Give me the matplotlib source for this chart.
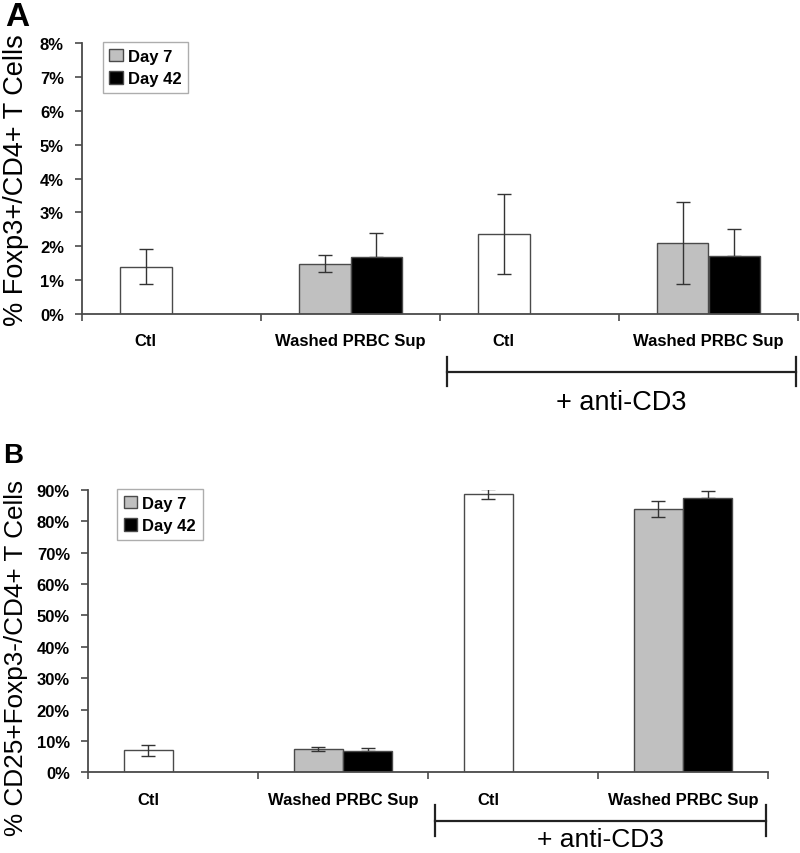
import matplotlib

matplotlib.use("Agg")
import matplotlib.pyplot as plt
import numpy as np
from matplotlib.patches import Patch
from matplotlib.ticker import FuncFormatter, MultipleLocator

plt.rcParams["font.family"] = ["Liberation Sans", "DejaVu Sans"]

CATEGORIES = ["Ctl", "Washed PRBC Sup", "Ctl", "Washed PRBC Sup"]
IS_CONTROL = [True, False, True, False]

# panel A: % Foxp3+/CD4+ T cells
A_FIRST = [1.40, 1.48, 2.36, 2.11]
A_FIRST_ERR = [0.52, 0.25, 1.17, 1.21]
A_DAY42 = [np.nan, 1.69, np.nan, 1.72]
A_DAY42_ERR = [np.nan, 0.70, np.nan, 0.78]

# panel B: % CD25+Foxp3-/CD4+ T cells
B_FIRST = [7.1, 7.4, 88.6, 83.9]
B_FIRST_ERR = [1.75, 0.75, 1.6, 2.45]
B_DAY42 = [np.nan, 6.8, np.nan, 87.3]
B_DAY42_ERR = [np.nan, 1.0, np.nan, 2.4]

GRAY = "#c0c0c0"
LINE = "#4a4a4a"
WIDTH = 0.29


def draw_panel(ax, first, first_err, day42, day42_err, ymax, ystep,
               legend_x, bracket_y, text_y, text_size):
    x = np.arange(len(CATEGORIES))
    colors = ["white" if c else GRAY for c in IS_CONTROL]
    ax.bar(x - WIDTH / 2, first, WIDTH, color=colors, edgecolor=LINE, linewidth=1, zorder=2)
    ax.bar(x + WIDTH / 2, day42, WIDTH, color="black", edgecolor=LINE, linewidth=1, zorder=2)
    ax.errorbar(x - WIDTH / 2, first, yerr=first_err, fmt="none", ecolor="#333333",
                elinewidth=1, capsize=5, capthick=1, zorder=3)
    # lower half of the Day 42 whiskers disappears into the black bar
    ax.errorbar(x + WIDTH / 2, day42, yerr=[np.zeros(len(x)), day42_err], fmt="none",
                ecolor="#333333", elinewidth=1, capsize=5, capthick=1, zorder=1)

    ax.set_xlim(-0.5, len(CATEGORIES) - 0.5)
    ax.set_ylim(0, ymax)
    ax.yaxis.set_major_locator(MultipleLocator(ystep))
    ax.yaxis.set_major_formatter(FuncFormatter(lambda v, _: f"{v:.0f}%"))
    ax.set_xticks(np.arange(len(CATEGORIES) + 1) - 0.5)
    ax.set_xticklabels([])
    for side in ("top", "right"):
        ax.spines[side].set_visible(False)
    for side in ("left", "bottom"):
        ax.spines[side].set_color(LINE)
        ax.spines[side].set_linewidth(1.3)
    ax.tick_params(axis="both", direction="out", length=5, width=1.2, color=LINE)
    ax.tick_params(axis="y", pad=8, labelsize=12)
    for lab in ax.get_yticklabels():
        lab.set_fontweight("bold")

    trans = ax.get_xaxis_transform()
    for i, (name, ctl) in enumerate(zip(CATEGORIES, IS_CONTROL)):
        xpos = i - WIDTH / 2 if ctl else i
        ax.text(xpos, -0.113, name, transform=trans, ha="center", va="baseline",
                fontsize=12, fontweight="bold")

    # "+ anti-CD3" bracket
    x0, x1 = 1.54, 3.49
    ax.plot([x0, x1], [bracket_y, bracket_y], transform=trans, color="#222222",
            lw=1.6, clip_on=False)
    for xe in (x0, x1):
        ax.plot([xe, xe], [bracket_y + 0.055, bracket_y - 0.052], transform=trans,
                color="#222222", lw=1.6, clip_on=False)
    ax.text((x0 + x1) / 2, text_y, "+ anti-CD3", transform=trans, ha="center",
            va="baseline", fontsize=text_size)

    handles = [Patch(facecolor=GRAY, edgecolor=LINE, label="Day 7"),
               Patch(facecolor="black", edgecolor=LINE, label="Day 42")]
    leg = ax.legend(handles=handles, loc="upper left", bbox_to_anchor=(legend_x, 1.004),
                    borderaxespad=0, frameon=True, fancybox=False, handlelength=0.8,
                    handleheight=0.8, handletextpad=0.3, labelspacing=0.45,
                    borderpad=0.4, prop={"weight": "bold", "size": 12})
    leg.get_frame().set_edgecolor("#999999")
    leg.get_frame().set_linewidth(1)


fig = plt.figure(figsize=(8, 8.54), dpi=100)

ax_a = fig.add_axes([82 / 800, 1 - 315 / 854, 716 / 800, 271 / 854])
draw_panel(ax_a, A_FIRST, A_FIRST_ERR, A_DAY42, A_DAY42_ERR, 8, 1,
           0.029, -0.214, -0.351, 19.5)

ax_b = fig.add_axes([88 / 800, 1 - 773.3 / 854, 680 / 800, 282.3 / 854])
draw_panel(ax_b, B_FIRST, B_FIRST_ERR, B_DAY42, B_DAY42_ERR, 90, 10,
           0.043, -0.172, -0.26, 19)

fig.text(16 / 800, 1 - 180 / 854, "% Foxp3+/CD4+ T Cells", rotation=90,
         ha="center", va="center", fontsize=19.5)
fig.text(16 / 800, 1 - 658 / 854, "% CD25+Foxp3-/CD4+ T Cells", rotation=90,
         ha="center", va="center", fontsize=18.8)
fig.text(5 / 800, 1 - 26 / 854, "A", ha="left", va="baseline", fontsize=24,
         fontweight="bold")
fig.text(3 / 800, 1 - 463 / 854, "B", ha="left", va="baseline", fontsize=20,
         fontweight="bold")

fig.savefig("out.png", dpi=100)
